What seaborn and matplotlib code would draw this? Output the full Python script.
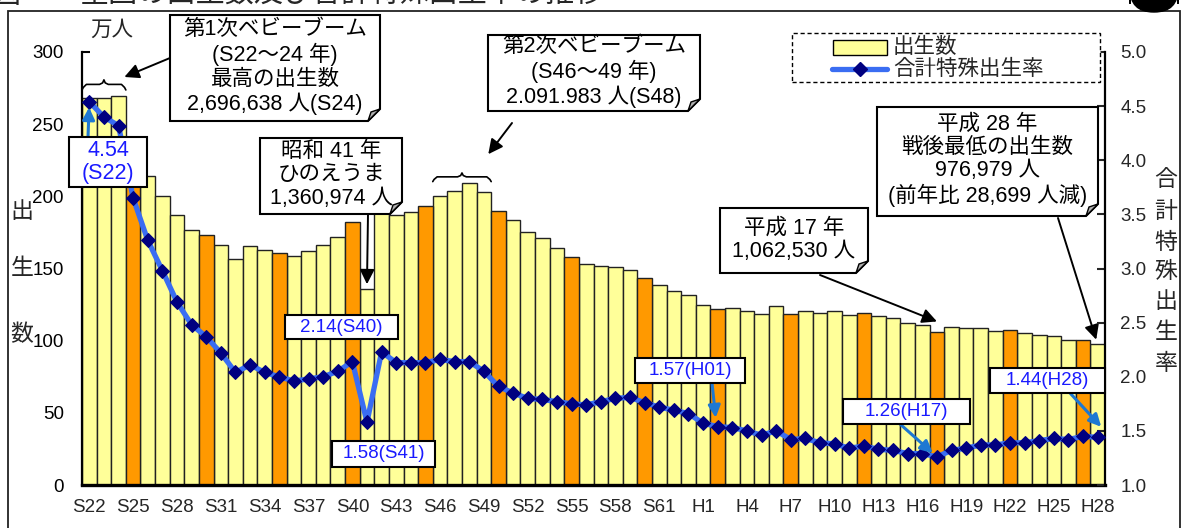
import numpy as np
import pandas as pd
import matplotlib
matplotlib.use("Agg")
import matplotlib.pyplot as plt
import seaborn as sns
from matplotlib.patches import Polygon, Rectangle, FancyBboxPatch
from matplotlib.lines import Line2D

# ---------------- data ----------------
year_labels = [f"S{n}" for n in range(22, 64)] + [f"H{n}" for n in range(1, 29)]

births = [267.9, 268.2, 269.7, 233.8, 213.8, 200.5, 186.8, 177.0, 173.1, 166.5,
          156.7, 165.3, 162.6, 160.6, 158.9, 161.9, 166.0, 171.7, 182.4, 136.1,
          193.6, 187.2, 188.9, 193.4, 200.1, 203.9, 209.2, 203.0, 190.1, 183.3,
          175.5, 170.9, 164.3, 157.7, 152.9, 151.5, 150.9, 149.0, 143.2, 138.3,
          134.7, 131.4, 124.7, 122.2, 122.3, 120.9, 118.8, 123.8, 118.7, 120.7,
          119.2, 120.3, 117.8, 119.1, 117.1, 115.4, 112.4, 111.1, 106.3, 109.3,
          109.0, 109.1, 107.0, 107.1, 105.1, 103.7, 103.0, 100.4, 100.6, 97.7]

tfr = [4.54, 4.40, 4.32, 3.65, 3.26, 2.98, 2.69, 2.48, 2.37, 2.22,
       2.04, 2.11, 2.04, 2.00, 1.96, 1.98, 2.00, 2.05, 2.14, 1.58,
       2.23, 2.13, 2.13, 2.13, 2.16, 2.14, 2.14, 2.05, 1.91, 1.85,
       1.80, 1.79, 1.77, 1.75, 1.74, 1.77, 1.80, 1.81, 1.76, 1.72,
       1.69, 1.66, 1.57, 1.54, 1.53, 1.50, 1.46, 1.50, 1.42, 1.43,
       1.39, 1.38, 1.34, 1.36, 1.33, 1.32, 1.29, 1.29, 1.26, 1.32,
       1.34, 1.37, 1.37, 1.39, 1.39, 1.41, 1.43, 1.42, 1.45, 1.44]

highlight_labels = ["S25", "S30", "S35", "S40", "S45", "S50", "S55", "S60",
                    "H2", "H7", "H12", "H17", "H22", "H27"]
shown_ticks = ["S22", "S25", "S28", "S31", "S34", "S37", "S40", "S43", "S46",
               "S49", "S52", "S55", "S58", "S61", "H1", "H4", "H7", "H10",
               "H13", "H16", "H19", "H22", "H25", "H28"]
left_ticks = [0, 50, 100, 150, 200, 250, 300]
right_ticks = [1.0, 1.5, 2.0, 2.5, 3.0, 3.5, 4.0, 4.5, 5.0]

df = pd.DataFrame({"label": year_labels, "births": births,
                   "group": ["hl" if l in highlight_labels else "reg" for l in year_labels]})
pos = np.arange(len(year_labels))

# ---------------- style ----------------
sns.set_style("white")
FONTS = ["Liberation Sans", "Noto Sans CJK JP", "DejaVu Sans"]
plt.rcParams["font.family"] = FONTS

W, H = 1185, 528
fig = plt.figure(figsize=(W / 100, H / 100), dpi=100)


def fx(x):
    return x / W


def fy(y):
    return 1 - y / H


ax = fig.add_axes([fx(82), fy(485), (1105 - 82) / W, (485 - 52) / H])

YEL, ORG = "#FFFF99", "#FF9900"
sns.barplot(data=df, x="label", y="births", hue="group", order=year_labels,
            palette={"reg": YEL, "hl": ORG}, dodge=False, width=1.0,
            saturation=1, edgecolor="#222222", linewidth=1.0, legend=False, ax=ax)

ax2 = ax.twinx()
sns.lineplot(x=pos, y=tfr, ax=ax2, color="#3A6DF2", lw=3.8, marker="D",
             markersize=7, markerfacecolor="#000080", markeredgecolor="#000080",
             sort=False, zorder=5)

ax.set_xlim(-0.5, len(year_labels) - 0.5)
ax.set_ylim(0, 300)
ax2.set_ylim(1.0, 5.0)
ax.set_xlabel("")
ax.set_ylabel("")
ax2.set_ylabel("")

ax.set_yticks(left_ticks)
ax.set_yticklabels([str(v) for v in left_ticks])
ax2.set_yticks(right_ticks)
ax2.set_yticklabels([f"{v:.1f}" for v in right_ticks])
ax.set_xticks([year_labels.index(l) for l in shown_ticks])
ax.set_xticklabels(shown_ticks)

ax.tick_params(axis="y", direction="in", length=6, width=1.5, pad=13,
               labelsize=13.5, colors="black")
ax.tick_params(axis="x", length=0, pad=10, labelsize=13.5)
ax2.tick_params(axis="y", direction="in", length=6, width=1.5, pad=11,
                labelsize=13.5)

for a in (ax, ax2):
    a.spines["top"].set_visible(False)
    a.grid(False)
    a.set_facecolor("none")
ax.spines["right"].set_visible(False)
ax2.spines["left"].set_visible(False)
ax2.spines["bottom"].set_visible(False)
ax.spines["left"].set_linewidth(1.6)
ax.spines["bottom"].set_linewidth(2.4)
ax2.spines["right"].set_linewidth(1.6)
for s in ax.spines.values():
    s.set_color("black")
ax2.spines["right"].set_color("black")

# ---------------- frame / title ----------------
fig.add_artist(Rectangle((fx(8), fy(540)), fx(1180) - fx(8), fy(11) - fy(540),
                         transform=fig.transFigure, fill=False, lw=1.3,
                         edgecolor="#222222", zorder=0))
fig.add_artist(FancyBboxPatch((fx(1130), fy(12)), fx(1178) - fx(1130), fy(-20) - fy(12),
                              boxstyle="round,pad=0,rounding_size=0.02",
                              mutation_aspect=W / H, transform=fig.transFigure,
                              facecolor="black", edgecolor="black"))
fig.text(fx(-9), fy(-5), "図", fontsize=21, ha="left", va="center")
fig.text(fx(80), fy(-5), "全国の出生数及び合計特殊出生率の推移", fontsize=21,
         ha="left", va="center")

fig.text(fx(112), fy(30), "万人", fontsize=15.5, ha="center", va="center")
for ch, yy in zip("出生数", [212, 268, 335]):
    fig.text(fx(22), fy(yy), ch, fontsize=16.5, ha="center", va="center")
for ch, yy in zip("合計特殊出生率", [180, 211, 242, 272, 302, 333, 363]):
    fig.text(fx(1166), fy(yy), ch, fontsize=16.5, ha="center", va="center")


# ---------------- callout boxes ----------------
def callout(x0, y0, x1, y1, text, fold=True, fs=15.5, color="black", lw=1.5):
    f = 12 if fold else 0
    if fold:
        pts = [(x0, y0), (x1, y0), (x1, y1 - f), (x1 - f, y1), (x0, y1)]
    else:
        pts = [(x0, y0), (x1, y0), (x1, y1), (x0, y1)]
    fig.add_artist(Polygon([(fx(a), fy(b)) for a, b in pts], closed=True,
                           transform=fig.transFigure, facecolor="white",
                           edgecolor="black", lw=lw, zorder=6))
    if fold:
        tri = [(x1, y1 - f), (x1 - f, y1), (x1 - f + 3, y1 - f + 3)]
        fig.add_artist(Polygon([(fx(a), fy(b)) for a, b in tri], closed=True,
                               transform=fig.transFigure, facecolor="#B0B0B0",
                               edgecolor="black", lw=1.0, zorder=7))
    fig.text(fx((x0 + x1) / 2), fy((y0 + y1) / 2 - (1 if fold else 0)), text,
             fontsize=fs, ha="center", va="center", color=color, zorder=8,
             linespacing=1.15)


callout(170, 15, 380, 121, "第1次ベビーブーム\n(S22～24 年)\n最高の出生数\n2,696,638 人(S24)")
callout(488, 35, 700, 111, "第2次ベビーブーム\n(S46～49 年)\n2.091.983 人(S48)")
callout(260, 138, 402, 214, "昭和 41 年\nひのえうま\n1,360,974 人")
callout(720, 208, 868, 273, "平成 17 年\n1,062,530 人")
callout(877, 107, 1098, 216, "平成 28 年\n戦後最低の出生数\n976,979 人\n(前年比 28,699 人減)")

BLUE_T = "#1a1aff"
callout(69, 137, 147, 187, "4.54\n(S22)", fold=False, fs=15.5, color=BLUE_T)
callout(285, 315, 398, 339, "2.14(S40)", fold=False, fs=13.5, color=BLUE_T)
callout(332, 441, 435, 467, "1.58(S41)", fold=False, fs=13.5, color=BLUE_T)
callout(635, 358, 745, 383, "1.57(H01)", fold=False, fs=13.5, color=BLUE_T)
callout(843, 399, 970, 424, "1.26(H17)", fold=False, fs=13.5, color=BLUE_T)
callout(990, 368, 1105, 393, "1.44(H28)", fold=False, fs=13.5, color=BLUE_T)

# ---------------- arrows ----------------
blk = dict(arrowstyle="-|>", color="black", lw=1.4, mutation_scale=22,
           shrinkA=0, shrinkB=0)
i41 = year_labels.index("S41")
i17 = year_labels.index("H17")
i28 = year_labels.index("H28")
ax.annotate("", xy=(2.4, max(births[:3]) + 13), xytext=(fx(170), fy(58)),
            textcoords="figure fraction", arrowprops=blk, annotation_clip=False, zorder=9)
ax.annotate("", xy=(27.3, max(births[24:28]) + 20), xytext=(fx(512), fy(123)),
            textcoords="figure fraction", arrowprops=blk, annotation_clip=False, zorder=9)
ax.annotate("", xy=(i41, births[i41] + 3), xytext=(fx(368), fy(214)),
            textcoords="figure fraction", arrowprops=blk, annotation_clip=False, zorder=9)
ax.annotate("", xy=(i17, births[i17] + 7), xytext=(fx(820), fy(275)),
            textcoords="figure fraction", arrowprops=blk, annotation_clip=False, zorder=9)
ax.annotate("", xy=(i28 - 0.1, births[i28] + 3), xytext=(fx(1058), fy(218)),
            textcoords="figure fraction", arrowprops=blk, annotation_clip=False, zorder=9)

blu = dict(arrowstyle="-|>", color="#1E78D2", lw=2.2, mutation_scale=18,
           shrinkA=0, shrinkB=4)
i01 = year_labels.index("H1")
ax2.annotate("", xy=(0, tfr[0]), xytext=(fx(88), fy(137)),
             textcoords="figure fraction", arrowprops=blu, annotation_clip=False, zorder=9)
ax2.annotate("", xy=(i01 + 0.9, tfr[i01]), xytext=(fx(712), fy(383)),
             textcoords="figure fraction", arrowprops=blu, annotation_clip=False, zorder=9)
ax2.annotate("", xy=(i17, tfr[i17]), xytext=(fx(900), fy(424)),
             textcoords="figure fraction", arrowprops=blu, annotation_clip=False, zorder=9)
ax2.annotate("", xy=(i28 + 0.5, tfr[i28] + 0.06), xytext=(fx(1070), fy(393)),
             textcoords="figure fraction", arrowprops=blu, annotation_clip=False, zorder=9)


# ---------------- braces ----------------
def brace(a, i0, i1, top, h):
    x0, x1 = i0 - 0.5, i1 + 0.5
    xm = (x0 + x1) / 2
    yb, yh, yt = top, top + h * 0.55, top + h
    d = 0.3
    xs = [x0, x0 + d * 0.3, x0 + d, xm - d, xm - d * 0.3, xm, xm + d * 0.3, xm + d, x1 - d, x1 - d * 0.3, x1]
    ys = [yb, yh - 0.3 * h, yh, yh, yh + 0.15 * h, yt, yh + 0.15 * h, yh, yh, yh - 0.3 * h, yb]
    a.add_line(Line2D(xs, ys, color="black", lw=1.2, clip_on=False, zorder=9))


brace(ax, 0, 2, max(births[0:3]) + 4, 7)
brace(ax, 24, 27, max(births[24:28]) + 1, 6)

# ---------------- legend ----------------
fig.add_artist(Rectangle((fx(792), fy(82)), fx(1100) - fx(792), fy(33) - fy(82),
                         transform=fig.transFigure, fill=True, facecolor="white",
                         edgecolor="black", lw=1.0, ls=(0, (3, 2)), zorder=6))
fig.add_artist(Rectangle((fx(833), fy(55)), fx(887) - fx(833), fy(40) - fy(55),
                         transform=fig.transFigure, facecolor=YEL,
                         edgecolor="black", lw=1.0, zorder=7))
fig.add_artist(Line2D([fx(832), fx(887)], [fy(69), fy(69)], transform=fig.transFigure,
                      color="#3A6DF2", lw=3.8, zorder=7))
fig.add_artist(Line2D([fx(860)], [fy(69)], transform=fig.transFigure, marker="D",
                      markersize=7, color="#000080", zorder=8))
fig.text(fx(893), fy(47), "出生数", fontsize=15.5, ha="left", va="center", zorder=8)
fig.text(fx(893), fy(69), "合計特殊出生率", fontsize=15.5, ha="left", va="center", zorder=8)

fig.savefig("out.png", dpi=100)
